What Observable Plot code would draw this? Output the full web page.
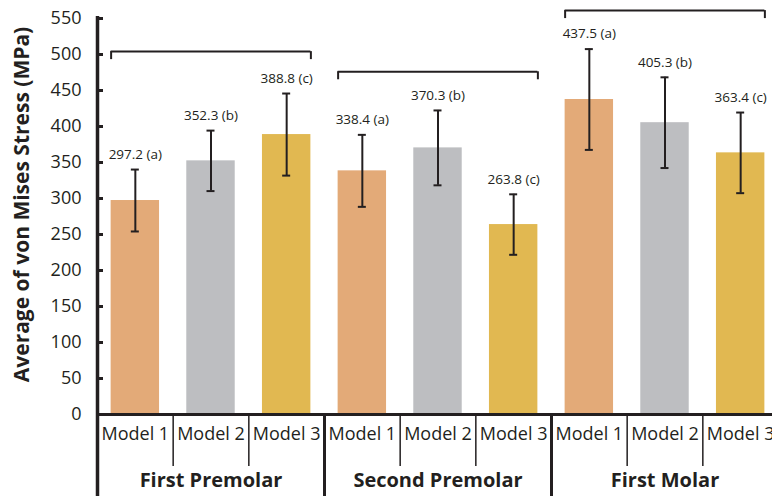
<!DOCTYPE html>
<html>
<head>
<meta charset="utf-8">
<script src="https://cdn.jsdelivr.net/npm/d3@7"></script>
<script src="https://cdn.jsdelivr.net/npm/@observablehq/plot@0.6"></script>
<style>
html, body { margin: 0; padding: 0; overflow: hidden; background: white; }
</style>
</head>
<body>
<div id="chart"></div>
<script>
const groups = ["First Premolar", "Second Premolar", "First Molar"];
const models = ["Model 1", "Model 2", "Model 3"];
const letters = ["a", "b", "c"];
const means = [
  [297.2, 352.3, 388.8],
  [338.4, 370.3, 263.8],
  [437.5, 405.3, 363.4]
];
const errors = [
  [43, 42, 57],
  [50, 52, 42],
  [70, 63, 56]
];
const bracketValues = [504, 476, 561];
const colors = ["#e3aa78", "#bdbec1", "#e1b851"];
const yTicks = [0, 50, 100, 150, 200, 250, 300, 350, 400, 450, 500, 550];
const yTitle = "Average of von Mises Stress (MPa)";

const rows = groups.flatMap((g, gi) => models.map((m, mi) => ({
  group: g, model: m, key: g + "|" + m,
  mean: means[gi][mi], err: errors[gi][mi],
  label: `${means[gi][mi].toFixed(1)} (${letters[mi]})`
})));
const brackets = groups.map((g, gi) => ({
  first: g + "|" + models[0], last: g + "|" + models[2], v: bracketValues[gi]
}));

const ink = "#231f20";
const width = 772, marginLeft = 97, marginRight = -6;
const step = (width - marginRight - marginLeft) / rows.length;
const pIn = 0.36;
const half = step / 2;
const bw = step * (1 - pIn);
const barHalf = bw / 2;
const outer = step * pIn / 2;
const tickLen = 6;

const chart = Plot.plot({
  width, height: 496,
  marginLeft, marginRight, marginTop: 18, marginBottom: 82,
  style: { fontFamily: "'Open Sans', sans-serif", color: ink, background: "white" },
  x: { type: "band", domain: rows.map(d => d.key), paddingInner: pIn, paddingOuter: pIn / 2, round: false, axis: null },
  y: { domain: [0, 550], axis: null },
  color: { domain: models, range: colors },
  marks: [
    Plot.barY(rows, { x: "key", y: "mean", fill: "model" }),
    Plot.ruleX(rows, { x: "key", y1: d => d.mean - d.err, y2: d => d.mean + d.err, stroke: ink, strokeWidth: 2 }),
    Plot.tickY(rows, { x: "key", y: d => d.mean + d.err, stroke: ink, strokeWidth: 2, insetLeft: barHalf - 4, insetRight: barHalf - 4 }),
    Plot.tickY(rows, { x: "key", y: d => d.mean - d.err, stroke: ink, strokeWidth: 2, insetLeft: barHalf - 4, insetRight: barHalf - 4 }),
    Plot.text(rows, { x: "key", y: d => d.mean + d.err, text: "label", dy: -15, fontSize: 13.5, fill: ink }),
    // brackets
    Plot.ruleY(brackets, { x1: "first", x2: "last", y: "v", stroke: ink, strokeWidth: 2 }),
    Plot.ruleX(brackets, { x: "first", y1: "v", y2: "v", dx: -barHalf, insetBottom: -8, stroke: ink, strokeWidth: 2 }),
    Plot.ruleX(brackets, { x: "last", y1: "v", y2: "v", dx: barHalf, insetBottom: -8, stroke: ink, strokeWidth: 2 }),
    // y axis ticks (pointing inward) and labels
    Plot.ruleY(yTicks, { y: d => d, x1: () => rows[0].key, x2: () => rows[0].key, insetLeft: -outer, insetRight: bw + outer - tickLen, stroke: ink, strokeWidth: 3 }),
    Plot.axisY(yTicks, { tickSize: 0, tickPadding: 16, fontSize: 18, fill: ink, label: null }),
    Plot.ruleY([0], { stroke: ink, strokeWidth: 3 }),
    Plot.ruleX([rows[0].key], { x: d => d, dx: -half, y1: 550, y2: 0, insetTop: -2, insetBottom: -82, stroke: ink, strokeWidth: 3.5 }),
    // group dividers
    Plot.ruleX(groups.slice(1), { x: g => g + "|" + models[0], dx: -half, y1: 0, y2: 0, insetBottom: -82, stroke: ink, strokeWidth: 3 }),
    // model dividers
    Plot.ruleX(rows.filter(d => d.model !== models[0]), { x: "key", dx: -half, y1: 0, y2: 0, insetBottom: -52, stroke: ink, strokeWidth: 1.5 }),
    // labels
    Plot.text(rows, { x: "key", frameAnchor: "bottom", dy: 25, text: "model", fontSize: 18, fill: ink }),
    Plot.text(groups, { x: g => g + "|" + models[1], frameAnchor: "bottom", dy: 72, text: d => d, fontSize: 20, fontWeight: "bold", fill: ink }),
    Plot.text([yTitle], { frameAnchor: "left", textAnchor: "middle", dx: -75, dy: -12, rotate: -90, text: d => d, fontSize: 21, fontWeight: "bold", fill: ink })
  ]
});
document.getElementById("chart").appendChild(chart);
</script>
</body>
</html>
